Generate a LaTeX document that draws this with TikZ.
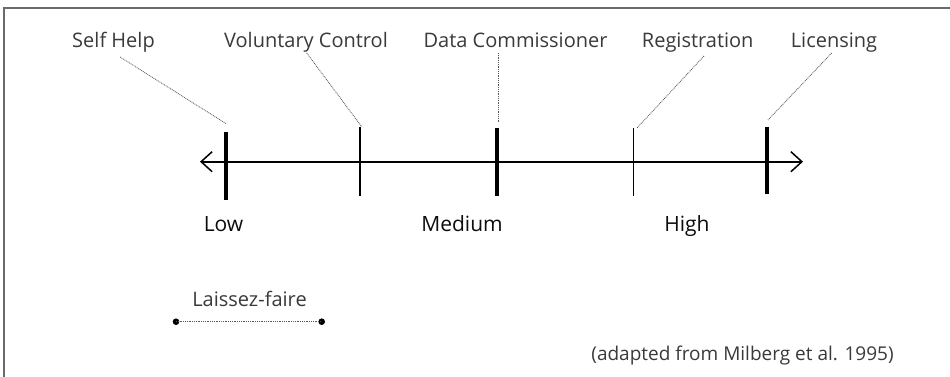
\documentclass[tikz,border=0pt]{standalone}
\usepackage{fontspec}
\setmainfont{Open Sans}
\usetikzlibrary{arrows.meta}
\definecolor{lbl}{HTML}{3A3A3A}
\definecolor{frm}{HTML}{6A6A6A}
\begin{document}
\begin{tikzpicture}[x=1pt,y=-1pt,
  toplabel/.style={anchor=base,inner sep=0pt,text=lbl,font=\fontsize{20}{23}\selectfont},
  levellabel/.style={anchor=base,inner sep=0pt,text=black!95,font=\fontsize{21}{24}\selectfont},
  srclabel/.style={anchor=base,inner sep=0pt,text=lbl,font=\fontsize{19}{22}\selectfont},
  leader/.style={draw=black!65,line width=0.8pt,dash pattern=on 0.9pt off 0.9pt},
  thicktick/.style={line width=4.5pt,black},
  thintick/.style={line width=1.3pt,black},
  axisline/.style={line width=1.6pt,black,{Straight Barb[length=11pt,width=20pt,line width=1.5pt]}-{Straight Barb[length=11pt,width=20pt,line width=1.5pt]}}
]
\useasboundingbox (0,0) rectangle (950,377);
\fill[white] (0,0) rectangle (950,377);
% frame
\draw[frm,line width=1.8pt] (4,377) -- (4,8) -- (950,8);

% axis
\coordinate (axL) at (200,161.7);
\coordinate (axR) at (803,161.7);
\draw[axisline] (axL) -- (axR);

% ticks
\coordinate (t1a) at (226,131.7); \coordinate (t1b) at (226,200);
\coordinate (t2a) at (360,127);   \coordinate (t2b) at (360,196);
\coordinate (t3a) at (497,128);   \coordinate (t3b) at (497,196);
\coordinate (t4a) at (633.3,128); \coordinate (t4b) at (633.3,196);
\coordinate (t5a) at (767,126.7); \coordinate (t5b) at (767,194);
\draw[thicktick] (t1a) -- (t1b);
\draw[thintick] (t2a) -- (t2b);
\draw[thicktick] (t3a) -- (t3b);
\draw[thintick] (t4a) -- (t4b);
\draw[thicktick] (t5a) -- (t5b);

% top labels
\node[toplabel] (selfhelp) at (113.5,48) {Self Help};
\node[toplabel] (volctrl) at (306,48) {Voluntary Control};
\node[toplabel] (datacom) at (515.6,48) {Data Commissioner};
\node[toplabel] (regis) at (697.7,48) {Registration};
\node[toplabel] (licens) at (834,48) {Licensing};

% leaders
\coordinate (l1s) at (120,57);    \coordinate (l1e) at (226.7,124);
\coordinate (l2s) at (306.7,53);  \coordinate (l2e) at (361.7,126.7);
\coordinate (l3s) at (498,53);    \coordinate (l3e) at (498,121.7);
\coordinate (l4s) at (704,56);    \coordinate (l4e) at (637,128);
\coordinate (l5s) at (831.7,53);  \coordinate (l5e) at (768,120);
\draw[leader] (l1s) -- (l1e);
\draw[leader] (l2s) -- (l2e);
\draw[leader] (l3s) -- (l3e);
\draw[leader] (l4s) -- (l4e);
\draw[leader] (l5s) -- (l5e);

% level labels
\node[levellabel] (low) at (223.5,231) {Low};
\node[levellabel] (medium) at (462,231) {Medium};
\node[levellabel] (high) at (687,231) {High};

% laissez-faire
\node[toplabel] (laissez) at (249.5,306.7) {Laissez-faire};
\fill[black] (176,321.7) circle (3.3pt) coordinate (lfL);
\fill[black] (321.7,321.7) circle (3.3pt) coordinate (lfR);
\draw[leader] (lfL) -- (lfR);

% source
\node[srclabel] (source) at (742.5,360) {(adapted from Milberg et al. 1995)};
\end{tikzpicture}
\end{document}
